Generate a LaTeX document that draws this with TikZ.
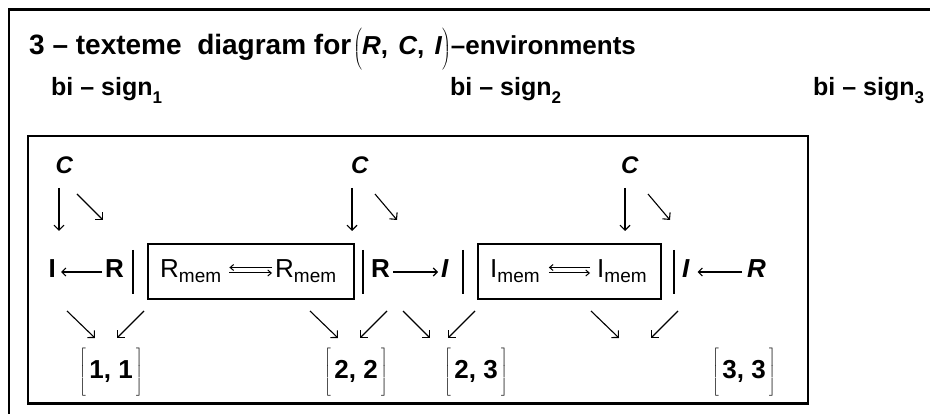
\documentclass[tikz,border=0pt]{standalone}
\usepackage{fontspec}
\setmainfont{Liberation Sans}
\usetikzlibrary{arrows.meta}
\nulldelimiterspace=0pt
\newcommand{\lparen}[2]{$\left(\vrule height #1 depth #2 width 0pt\right.$}
\newcommand{\rparen}[2]{$\left.\vrule height #1 depth #2 width 0pt\right)$}
\newcommand{\lbrk}{$\left[\vrule height 30pt depth 17pt width 0pt\right.$\hspace{3.5pt}}
\newcommand{\rbrk}{\hspace{3.5pt}$\left.\vrule height 30pt depth 17pt width 0pt\right]$}
\newcommand{\lowsub}[1]{\raisebox{-8pt}{\fontsize{17}{19}\selectfont #1}}
\newcommand{\memsub}{\raisebox{-5pt}{\fontsize{19}{22}\selectfont mem}}
\begin{document}
\begin{tikzpicture}[x=1pt,y=-1pt,
  tt/.style={inner sep=0pt, anchor=base west},
  ttl/.style={tt, font=\fontsize{28}{34}\selectfont\bfseries},
  bis/.style={tt, font=\fontsize{25}{30}\selectfont\bfseries},
  cc/.style={tt, font=\fontsize{24}{28}\selectfont\bfseries\itshape},
  rowb/.style={tt, font=\fontsize{26}{30}\selectfont\bfseries, text height=12pt, text depth=0pt},
  rowi/.style={tt, font=\fontsize{26}{30}\selectfont\bfseries\itshape, text height=12pt, text depth=0pt},
  mem/.style={tt, font=\fontsize{26}{30}\selectfont, text height=12pt, text depth=0pt},
  lab/.style={tt, font=\fontsize{26}{30}\selectfont\bfseries},
  frame/.style={line width=2.3pt},
  membox/.style={draw, line width=2.2pt, minimum height=55pt, inner sep=0pt},
  bar/.style={line width=1.8pt},
  arr/.style={line width=1.1pt, -{Straight Barb[length=5pt,width=10pt]}},
  larr/.style={line width=1.1pt, -{Straight Barb[length=4pt,width=8pt]}},
  harr/.style={line width=1pt, -{Straight Barb[length=3.5pt,width=6pt]}},
]
\useasboundingbox (0,0) rectangle (930,414);
\fill[white] (0,0) rectangle (930,414);
% frames
\draw[frame] (8.7,414) -- (8.7,9.5) -- (930,9.5);
\draw[frame] (27.7,136) rectangle (808,403.5);
% title
\node[ttl] (title) at (29,55) {3 – texteme\ \ diagram for\hspace{2pt}{\fontsize{26}{30}\selectfont\lparen{29pt}{15pt}\textit{R},\hspace{3pt} \textit{C},\hspace{3pt} \textit{I}\rparen{29pt}{15pt}–environments}};
\node[bis] (bs1) at (51,96) {bi – sign\lowsub{1}};
\node[bis] (bs2) at (450,96) {bi – sign\lowsub{2}};
\node[bis] (bs3) at (813,96) {bi – sign\lowsub{3}};
% C nodes
\node[cc] (c1) at (55.5,173.5) {C};
\node[cc] (c2) at (351,173.5) {C};
\node[cc] (c3) at (621,173.5) {C};
\coordinate (c1v) at (59,188); \coordinate (c1vt) at (59,231);
\coordinate (c1d) at (77,194); \coordinate (c1dt) at (103,220);
\coordinate (c2v) at (352,188); \coordinate (c2vt) at (352,231);
\coordinate (c2d) at (375,194); \coordinate (c2dt) at (397,220);
\coordinate (c3v) at (625,188); \coordinate (c3vt) at (625,231);
\coordinate (c3d) at (648,194); \coordinate (c3dt) at (670,220);
\draw[arr] (c1v) -- (c1vt); \draw[arr] (c1d) -- (c1dt);
\draw[arr] (c2v) -- (c2vt); \draw[arr] (c2d) -- (c2dt);
\draw[arr] (c3v) -- (c3vt); \draw[arr] (c3d) -- (c3dt);
% row
\node[rowb] (i1) at (48.5,278) {I};
\node[rowb] (r1) at (105,278) {R};
\draw[larr, shorten <=3pt, shorten >=5pt] (r1) -- (i1);
\coordinate (b1t) at (133,250); \coordinate (b1b) at (133,294);
\draw[bar] (b1t) -- (b1b);
\node[membox, minimum width=206pt] (box1) at (251,271.5) {};
\node[mem] (rm1) at (160,278) {R\memsub};
\node[mem] (rm2) at (275,278) {R\memsub};
\draw[harr, shorten <=3pt, shorten >=8pt] ([yshift=4.5pt]rm2.west) -- ([yshift=4.5pt]rm1.east);
\draw[harr, shorten <=8pt, shorten >=3pt] ([yshift=-1pt]rm1.east) -- ([yshift=-1pt]rm2.west);
\coordinate (b2t) at (363,250); \coordinate (b2b) at (363,294);
\draw[bar] (b2t) -- (b2b);
\node[rowb] (r2) at (371,278) {R};
\node[rowi] (i2) at (441,278) {I};
\draw[larr, shorten <=3pt, shorten >=3pt] (r2) -- (i2);
\coordinate (b3t) at (463,250); \coordinate (b3b) at (463,294);
\draw[bar] (b3t) -- (b3b);
\node[membox, minimum width=183pt] (box2) at (569.5,271.5) {};
\node[mem] (im1) at (490,278) {I\memsub};
\node[mem] (im2) at (597,278) {I\memsub};
\draw[harr, shorten <=7pt, shorten >=9pt] ([yshift=4.5pt]im2.west) -- ([yshift=4.5pt]im1.east);
\draw[harr, shorten <=9pt, shorten >=7pt] ([yshift=-1pt]im1.east) -- ([yshift=-1pt]im2.west);
\coordinate (b4t) at (674,250); \coordinate (b4b) at (674,294);
\draw[bar] (b4t) -- (b4b);
\node[rowi] (i3) at (682,278) {I};
\node[rowi] (r3) at (747,278) {R};
\draw[larr, shorten <=5pt, shorten >=8pt] (r3) -- (i3);
% bottom arrows
\coordinate (d1a) at (67,311);  \coordinate (d1b) at (95,338);
\coordinate (d2a) at (144,311); \coordinate (d2b) at (117,338);
\coordinate (d3a) at (310,311); \coordinate (d3b) at (338,338);
\coordinate (d4a) at (387,311); \coordinate (d4b) at (360,338);
\coordinate (d5a) at (403,311); \coordinate (d5b) at (430,338);
\coordinate (d6a) at (475,311); \coordinate (d6b) at (448,338);
\coordinate (d7a) at (591,311); \coordinate (d7b) at (619,338);
\coordinate (d8a) at (678,311); \coordinate (d8b) at (651,338);
\foreach \k in {1,...,8}{\draw[arr] (d\k a) -- (d\k b);}
% labels
\node[lab] (l11) at (79,378) {\lbrk 1, 1\rbrk};
\node[lab] (l22) at (324,378) {\lbrk 2, 2\rbrk};
\node[lab] (l23) at (444,378) {\lbrk 2, 3\rbrk};
\node[lab] (l33) at (712,378) {\lbrk 3, 3\rbrk};
\end{tikzpicture}
\end{document}
